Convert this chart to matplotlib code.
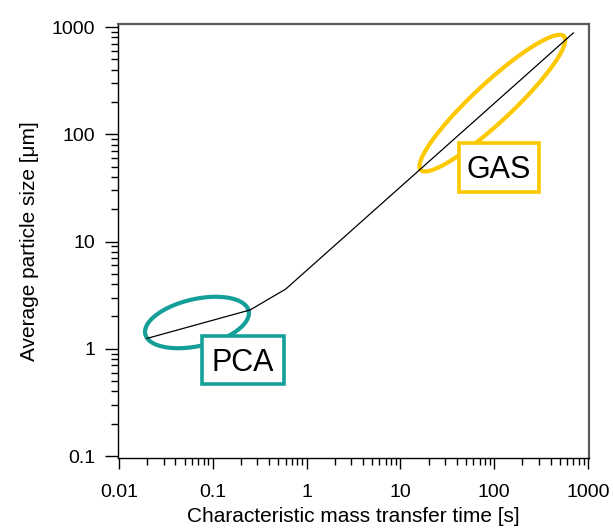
import numpy as np
import matplotlib
matplotlib.use("Agg")
import matplotlib.pyplot as plt
from matplotlib.patches import Rectangle
from matplotlib.ticker import LogLocator, NullFormatter, FixedFormatter, FixedLocator

plt.rcParams['font.family'] = ['Liberation Sans', 'DejaVu Sans']

# data
time_s = [0.02, 0.25, 0.6, 700]
size_um = [1.25, 2.3, 3.6, 880]
x_ticks = [0.01, 0.1, 1, 10, 100, 1000]
x_ticklabels = ["0.01", "0.1", "1", "10", "100", "1000"]
y_ticks = [0.1, 1, 10, 100, 1000]
y_ticklabels = ["0.1", "1", "10", "100", "1000"]

TEAL = "#14a098"
GOLD = "#fcc800"

W, H, DPI = 613, 528, 100
fig = plt.figure(figsize=(W / DPI, H / DPI), dpi=DPI)
L, R, T, B = 117.8, 589.0, 24.2, 458.0
ax = fig.add_axes([L / W, 1 - B / H, (R - L) / W, (B - T) / H])
ax.set_xscale('log')
ax.set_yscale('log')
ax.set_xlim(0.00972, 1029)
ax.set_ylim(0.0958, 1062)

ax.plot(time_s, size_um, color='black', lw=0.9, zorder=3)

ax.xaxis.set_major_locator(FixedLocator(x_ticks))
ax.xaxis.set_major_formatter(FixedFormatter(x_ticklabels))
ax.yaxis.set_major_locator(FixedLocator(y_ticks))
ax.yaxis.set_major_formatter(FixedFormatter(y_ticklabels))
ax.xaxis.set_minor_locator(LogLocator(base=10, subs=np.arange(2, 10)))
ax.yaxis.set_minor_locator(LogLocator(base=10, subs=np.arange(2, 10)))
ax.xaxis.set_minor_formatter(NullFormatter())
ax.yaxis.set_minor_formatter(NullFormatter())
ax.tick_params(which='both', direction='out', width=1.0, labelsize=14, top=False, right=False)
ax.tick_params(axis='x', which='major', length=8, pad=11)
ax.tick_params(axis='x', which='minor', length=4.8)
ax.tick_params(axis='y', which='major', length=9.4, pad=7)
ax.tick_params(axis='y', which='minor', length=5)

for s in ['left', 'bottom']:
    ax.spines[s].set_color('black')
    ax.spines[s].set_linewidth(1.0)
for s in ['top', 'right']:
    ax.spines[s].set_color('#5a5a5a')
    ax.spines[s].set_linewidth(1.6)

ax.set_xlabel("Characteristic mass transfer time [s]", fontsize=15, labelpad=4)
ax.set_ylabel("Average particle size [\u03bcm]", fontsize=15, labelpad=9)

fig.canvas.draw()

def ellipse(cx, cy, a, b, ang, color):
    # a, b in pixels, ang degrees; centre in data coords
    px, py = ax.transData.transform((cx, cy))
    t = np.linspace(0, 2 * np.pi, 400)
    th = np.deg2rad(ang)
    ex = px + a * np.cos(t) * np.cos(th) - b * np.sin(t) * np.sin(th)
    ey = py + a * np.cos(t) * np.sin(th) + b * np.sin(t) * np.cos(th)
    d = ax.transData.inverted().transform(np.column_stack([ex, ey]))
    ax.plot(d[:, 0], d[:, 1], color=color, lw=3.0, zorder=2, solid_capstyle='round')

ellipse(0.0679, 1.757, 53, 23.5, 12.7, TEAL)
ellipse(95.9, 195, 98, 19.5, 43, GOLD)

def box(x0, y0, x1, y1, label, color):
    ax.add_patch(Rectangle((x0, y0), x1 - x0, y1 - y0, transform=ax.transAxes,
                           facecolor='white', edgecolor=color, lw=2.6, zorder=4,
                           joinstyle='miter'))
    ax.text((x0 + x1) / 2, (y0 + y1) / 2 - 0.006, label, transform=ax.transAxes,
            ha='center', va='center', fontsize=22, zorder=5, color='black')

box(0.1787, 0.1706, 0.3527, 0.2812, "PCA", TEAL)
box(0.7241, 0.6132, 0.8939, 0.7261, "GAS", GOLD)

fig.savefig("out.png", dpi=DPI)
